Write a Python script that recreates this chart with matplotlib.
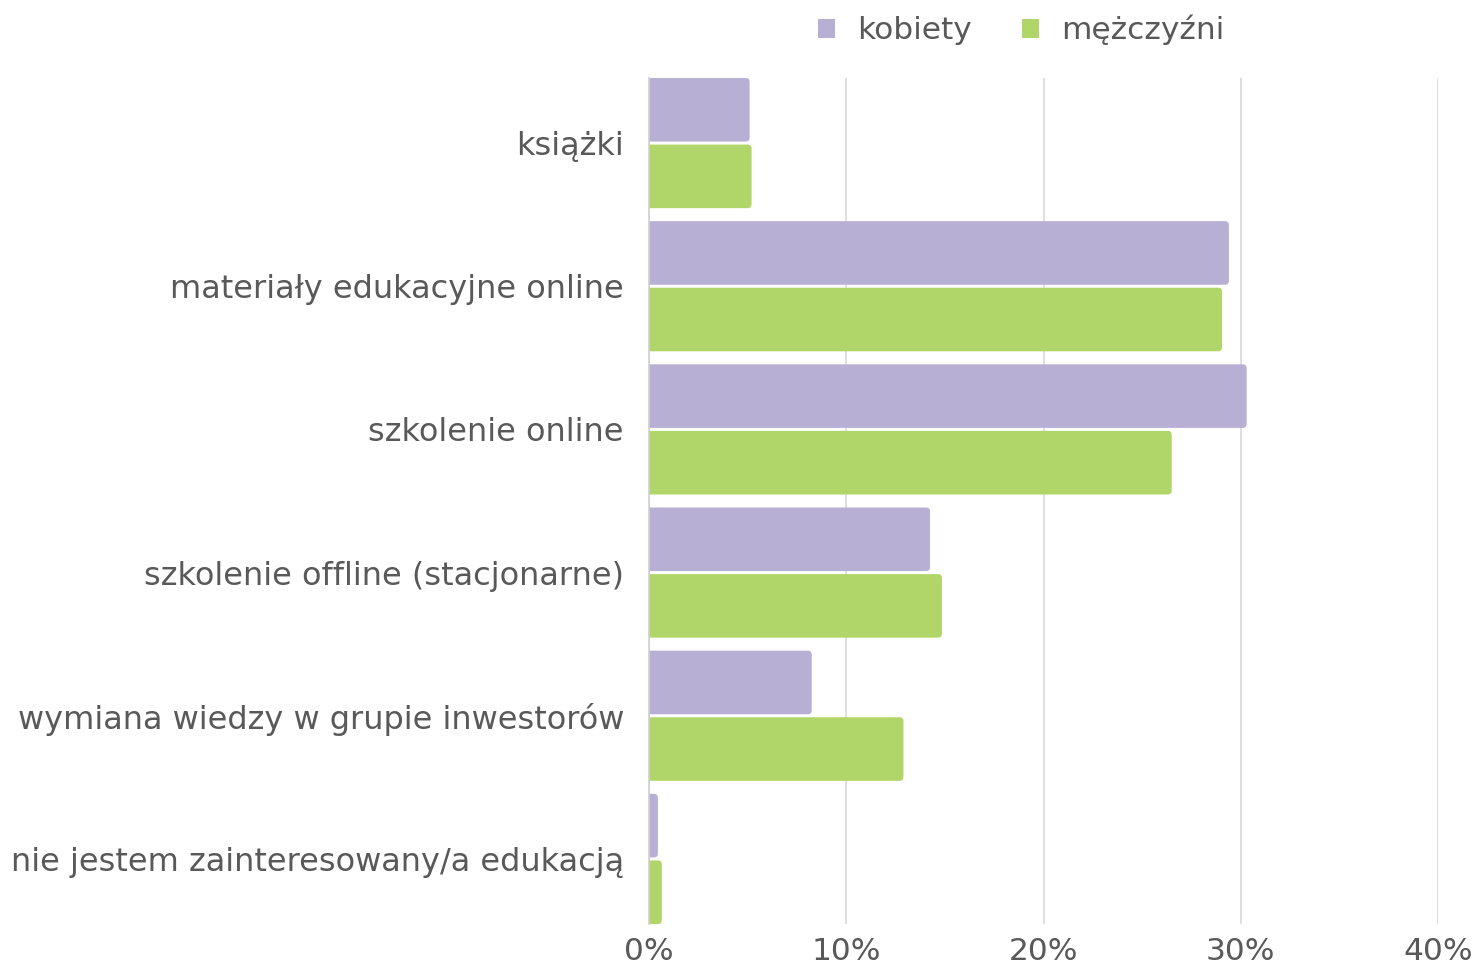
import numpy as np
import matplotlib
matplotlib.use("Agg")
import matplotlib.pyplot as plt
from matplotlib.patches import FancyBboxPatch
from matplotlib.ticker import FuncFormatter

categories = [
    "książki",
    "materiały edukacyjne online",
    "szkolenie online",
    "szkolenie offline (stacjonarne)",
    "wymiana wiedzy w grupie inwestorów",
    "nie jestem zainteresowany/a edukacją",
]
kobiety = [5.1, 29.4, 30.3, 14.25, 8.25, 0.45]
mezczyzni = [5.2, 29.05, 26.5, 14.85, 12.9, 0.65]
xticks = [0, 10, 20, 30, 40]

C_K = "#B7AFD4"
C_M = "#B0D669"
TXT = "#595959"
FS = 22.5

plt.rcParams["font.family"] = ["DejaVu Sans"]

fig = plt.figure(figsize=(14.74, 9.72), dpi=100)
ax = fig.add_axes([649 / 1474, 1 - 924 / 972, (1438 - 649) / 1474, (924 - 78) / 972])

y = np.arange(len(categories))
h = 0.444
off = 0.2325
bk = ax.barh(y - off, kobiety, height=h, color=C_K, label="kobiety", zorder=3)
bm = ax.barh(y + off, mezczyzni, height=h, color=C_M, label="mężczyźni", zorder=3)

ax.set_xlim(0, 40)
ax.set_ylim(len(categories) - 1 + 0.4545, -0.4545)

# swap plain rectangles for ones with slightly rounded corners
r = 0.2
aspect = (1 / 143) / (40 / 789)  # y-units per px over x-units per px
for bars in (bk, bm):
    for p in bars:
        x0, y0 = p.get_x(), p.get_y()
        w, hh = p.get_width(), p.get_height()
        fp = FancyBboxPatch((x0 - r, y0), w + r, hh,
                            boxstyle=f"round,pad=0,rounding_size={r}",
                            mutation_aspect=aspect,
                            facecolor=p.get_facecolor(), edgecolor="none",
                            zorder=3)
        fp.set_clip_path(ax.patch)
        ax.add_patch(fp)
        p.set_visible(False)

ax.set_xticks(xticks)
ax.xaxis.set_major_formatter(FuncFormatter(lambda v, p: f"{v:.0f}%"))
ax.set_yticks(y)
ax.set_yticklabels(categories)
ax.tick_params(axis="both", length=0, labelsize=FS, labelcolor=TXT)
ax.tick_params(axis="y", labelsize=23, pad=18)
ax.tick_params(axis="x", pad=9)
ax.grid(axis="x", color="#D9D9D9", linewidth=1.2, zorder=0)
for s in ("top", "right", "bottom"):
    ax.spines[s].set_visible(False)
ax.spines["left"].set_color("#D0D0D0")
ax.spines["left"].set_linewidth(1.2)
ax.spines["left"].set_zorder(4)

fig.legend(handles=[bk, bm], loc="center", bbox_to_anchor=(1021 / 1474, 1 - 30 / 972),
           ncol=2, frameon=False, fontsize=FS, labelcolor=TXT, handlelength=0.55,
           handleheight=0.55, handletextpad=0.7, columnspacing=1.6)
for hnd in fig.legends[0].legend_handles:
    hnd.set_visible(True)

fig.savefig("out.png", dpi=100)
